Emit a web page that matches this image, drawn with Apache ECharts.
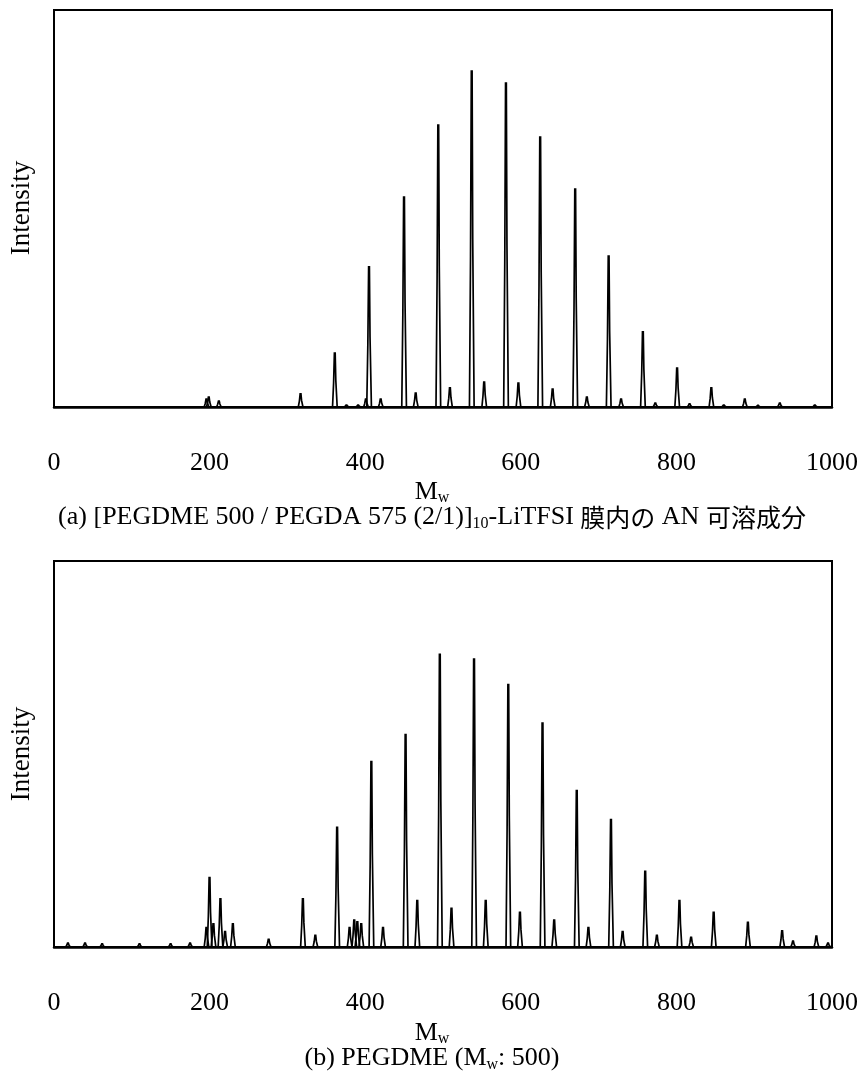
<!DOCTYPE html>
<html>
<head>
<meta charset="utf-8">
<script src="https://cdn.jsdelivr.net/npm/echarts@6/dist/echarts.min.js"></script>
<style>
  html, body { margin: 0; padding: 0; background: #fff; }
  #chart { width: 864px; height: 1074px; }
</style>
</head>
<body>
<div id="chart"></div>
<script>
// x axis ticks (Mw)
const xTicks = [0, 200, 400, 600, 800, 1000];

// (a) peaks: mass and relative intensity
const topMass = [196, 199, 212, 317, 361, 376, 391, 401, 405, 420, 450, 465, 494, 509, 537, 553, 581, 597, 625, 641, 670, 685, 713, 729, 757, 773, 801, 817, 845, 861, 888, 905, 933, 978];
const topInt  = [0.02, 0.025, 0.015, 0.033, 0.136, 0.005, 0.005, 0.02, 0.353, 0.02, 0.529, 0.035, 0.71, 0.048, 0.846, 0.063, 0.816, 0.06, 0.68, 0.045, 0.549, 0.025, 0.38, 0.02, 0.189, 0.01, 0.098, 0.008, 0.048, 0.005, 0.02, 0.004, 0.01, 0.005];

// (b) peaks
const botMass = [18, 40, 62, 110, 150, 175, 196, 200, 205, 214, 220, 230, 276, 320, 336, 364, 380, 386, 390, 395, 408, 423, 452, 467, 496, 511, 540, 555, 584, 599, 628, 643, 672, 687, 716, 731, 760, 775, 804, 819, 848, 892, 936, 950, 980, 995];
const botInt  = [0.01, 0.01, 0.008, 0.008, 0.008, 0.01, 0.05, 0.18, 0.06, 0.125, 0.04, 0.06, 0.02, 0.125, 0.03, 0.31, 0.05, 0.07, 0.065, 0.06, 0.48, 0.05, 0.55, 0.12, 0.758, 0.1, 0.746, 0.12, 0.68, 0.09, 0.58, 0.07, 0.405, 0.05, 0.33, 0.04, 0.196, 0.03, 0.12, 0.025, 0.09, 0.064, 0.042, 0.015, 0.028, 0.01];

const serif = 'Liberation Serif';
const cjk = 'Noto Sans CJK JP';

const chart = echarts.init(document.getElementById('chart'));

// each peak: narrow spike with a small shoulder
function spike(params, api) {
  const m = api.value(0);
  const h = api.value(1);
  const pts = [
    [m - 3, 0], [m - 1.6, h * 0.45], [m - 0.6, h],
    [m + 0.4, h], [m + 1.2, h * 0.5], [m + 3, 0]
  ].map(p => api.coord(p));
  return {
    type: 'polyline',
    shape: { points: pts },
    style: { stroke: '#000', lineWidth: 1.7, fill: null }
  };
}

const pairs = (xs, ys) => xs.map((x, i) => [x, ys[i]]);

const grids = [
  { left: 54, right: 32, top: 10, height: 397 },
  { left: 54, right: 32, top: 561, height: 386 }
];

const xAxisBase = (gi) => ({
  type: 'value', gridIndex: gi, min: xTicks[0], max: xTicks[xTicks.length - 1], interval: 200,
  axisLine: { show: true, onZero: false, lineStyle: { color: '#000', width: 2.5 } },
  axisTick: { show: false },
  splitLine: { show: false },
  axisLabel: { margin: 43, fontFamily: serif, fontSize: 26, color: '#000', formatter: v => String(v) }
});

const yAxisBase = (gi) => ({
  type: 'value', gridIndex: gi, min: 0, max: 1,
  axisLine: { show: true, lineStyle: { color: '#000', width: 2 } },
  axisTick: { show: false }, axisLabel: { show: false }, splitLine: { show: false }
});

const mwText = (top) => ({
  type: 'text', left: 'center', top: top,
  style: {
    text: '{m|M}{w|w}',
    rich: {
      m: { fontFamily: serif, fontSize: 26, color: '#000', lineHeight: 28 },
      w: { fontFamily: serif, fontSize: 16, color: '#000', lineHeight: 28, verticalAlign: 'bottom', padding: [10, 0, 0, 0] }
    }
  }
});

const intensityText = (cy) => ({
  type: 'text', x: 22, y: cy, rotation: Math.PI / 2,
  style: { text: 'Intensity', fontFamily: serif, fontSize: 27, fill: '#000', align: 'center', verticalAlign: 'middle' }
});

const capRich = {
  t: { fontFamily: serif, fontSize: 26, color: '#000', lineHeight: 30 },
  s: { fontFamily: serif, fontSize: 16, color: '#000', lineHeight: 30, verticalAlign: 'bottom', padding: [12, 0, 0, 0] },
  j: { fontFamily: cjk, fontSize: 25, color: '#000', lineHeight: 30 }
};

chart.setOption({
  animation: false,
  backgroundColor: '#fff',
  grid: grids.map(g => Object.assign({ show: true, borderColor: '#000', borderWidth: 2, backgroundColor: 'transparent' }, g)),
  xAxis: [xAxisBase(0), xAxisBase(1)],
  yAxis: [yAxisBase(0), yAxisBase(1)],
  series: [
    { type: 'custom', xAxisIndex: 0, yAxisIndex: 0, renderItem: spike, data: pairs(topMass, topInt), clip: true },
    { type: 'custom', xAxisIndex: 1, yAxisIndex: 1, renderItem: spike, data: pairs(botMass, botInt), clip: true }
  ],
  graphic: [
    intensityText(208),
    intensityText(754),
    mwText(479),
    mwText(1020),
    {
      type: 'text', left: 'center', top: 504,
      style: {
        text: '{t|(a) [PEGDME 500 / PEGDA 575 (2/1)]}{s|10}{t|-LiTFSI }{j|膜内の}{t| AN }{j|可溶成分}',
        rich: capRich
      }
    },
    {
      type: 'text', left: 'center', top: 1045,
      style: {
        text: '{t|(b) PEGDME (M}{s|w}{t|: 500)}',
        rich: capRich
      }
    }
  ]
});
</script>
</body>
</html>
